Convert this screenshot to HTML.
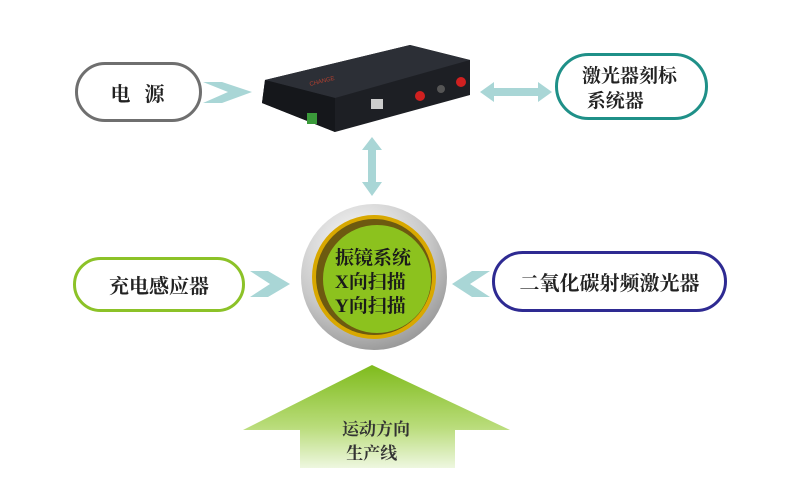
<!DOCTYPE html>
<html><head><meta charset="utf-8"><style>
body{margin:0;width:800px;height:478px;background:#fff;overflow:hidden;position:relative;font-family:"Liberation Serif","Noto Serif CJK SC",serif}
.p{position:absolute;box-sizing:border-box;border-radius:40px;border:3px solid;background:#fff;display:flex;align-items:center;justify-content:center;font-weight:bold;color:#222;font-size:20px}
.t{position:absolute;font-weight:bold;color:#1a1a1a}
</style></head><body>
<div class="p" style="left:75px;top:62px;width:127px;height:60px;border-color:#6f6f6f;letter-spacing:14px;padding-left:12px">电源</div>
<div class="p" style="left:555px;top:53px;width:153px;height:67px;border-color:#1f9088;font-size:19px;line-height:25px;display:block;padding:8px 0 0 24px">激光器刻标<br>&nbsp;系统器</div>
<div class="p" style="left:73px;top:257px;width:172px;height:55px;border-color:#8cc228">充电感应器</div>
<div class="p" style="left:492px;top:251px;width:235px;height:61px;border-color:#2e2a92">二氧化碳射频激光器</div>
<svg width="800" height="478" style="position:absolute;left:0;top:0">
<defs>
<linearGradient id="ag" x1="0" y1="0" x2="0" y2="1"><stop offset="0" stop-color="#7fbb1c"/><stop offset="0.6" stop-color="#b9dc7a"/><stop offset="1" stop-color="#eef7e0"/></linearGradient>
<radialGradient id="sg" cx="0.4" cy="0.3" r="0.8"><stop offset="0" stop-color="#ffffff"/><stop offset="0.6" stop-color="#c8c8c8"/><stop offset="1" stop-color="#8a8a8a"/></radialGradient>
</defs>
<polygon points="265,80 410,45 470,60 470,95 335,132 262,103" fill="#1d1f24"/>
<polygon points="265,80 410,45 470,60 335,98" fill="#2c2f36"/>
<polygon points="262,103 335,132 335,98 265,80" fill="#15171b"/>
<rect x="371" y="99" width="12" height="10" fill="#ccc"/>
<circle cx="420" cy="96" r="5" fill="#d02020"/><circle cx="461" cy="82" r="5" fill="#d02020"/><circle cx="441" cy="89" r="4" fill="#555"/>
<rect x="307" y="113" width="10" height="11" fill="#3a9a3a"/>
<text x="310" y="86" font-size="6" fill="#b04030" font-family="Liberation Sans" transform="rotate(-14 310 86)">CHANGE</text>
<polygon points="203,82 222,82 252,92 222,103 203,103 228,92" fill="#a9d6d6"/>
<polygon points="250,271 268,271 290,284 268,297 250,297 270,284" fill="#a9d6d6"/>
<polygon points="490,271 472,271 452,284 472,297 490,297 470,284" fill="#a9d6d6"/>
<polygon points="480,92 494,82 494,88 538,88 538,82 552,92 538,102 538,96 494,96 494,102" fill="#a9d6d6"/>
<polygon points="372,137 382,150 376,150 376,182 382,182 372,196 362,182 368,182 368,150 362,150" fill="#a9d6d6"/>
<circle cx="374" cy="277" r="73" fill="url(#sg)"/>
<circle cx="374" cy="277" r="62" fill="#d8a800"/>
<circle cx="374" cy="277" r="58" fill="#6d5a10"/>
<circle cx="377" cy="279" r="54" fill="#8cc21e"/>
<polygon points="372,365 510,430 455,430 455,468 300,468 300,430 243,430" fill="url(#ag)"/>
</svg>
<div class="t" style="left:335px;top:247px;font-size:19px;line-height:24px">振镜系统<br>X向扫描<br>Y向扫描</div>
<div class="t" style="left:342px;top:418px;font-size:17px;line-height:24px;color:#333">运动方向<br>&nbsp;生产线</div>
</body></html>
